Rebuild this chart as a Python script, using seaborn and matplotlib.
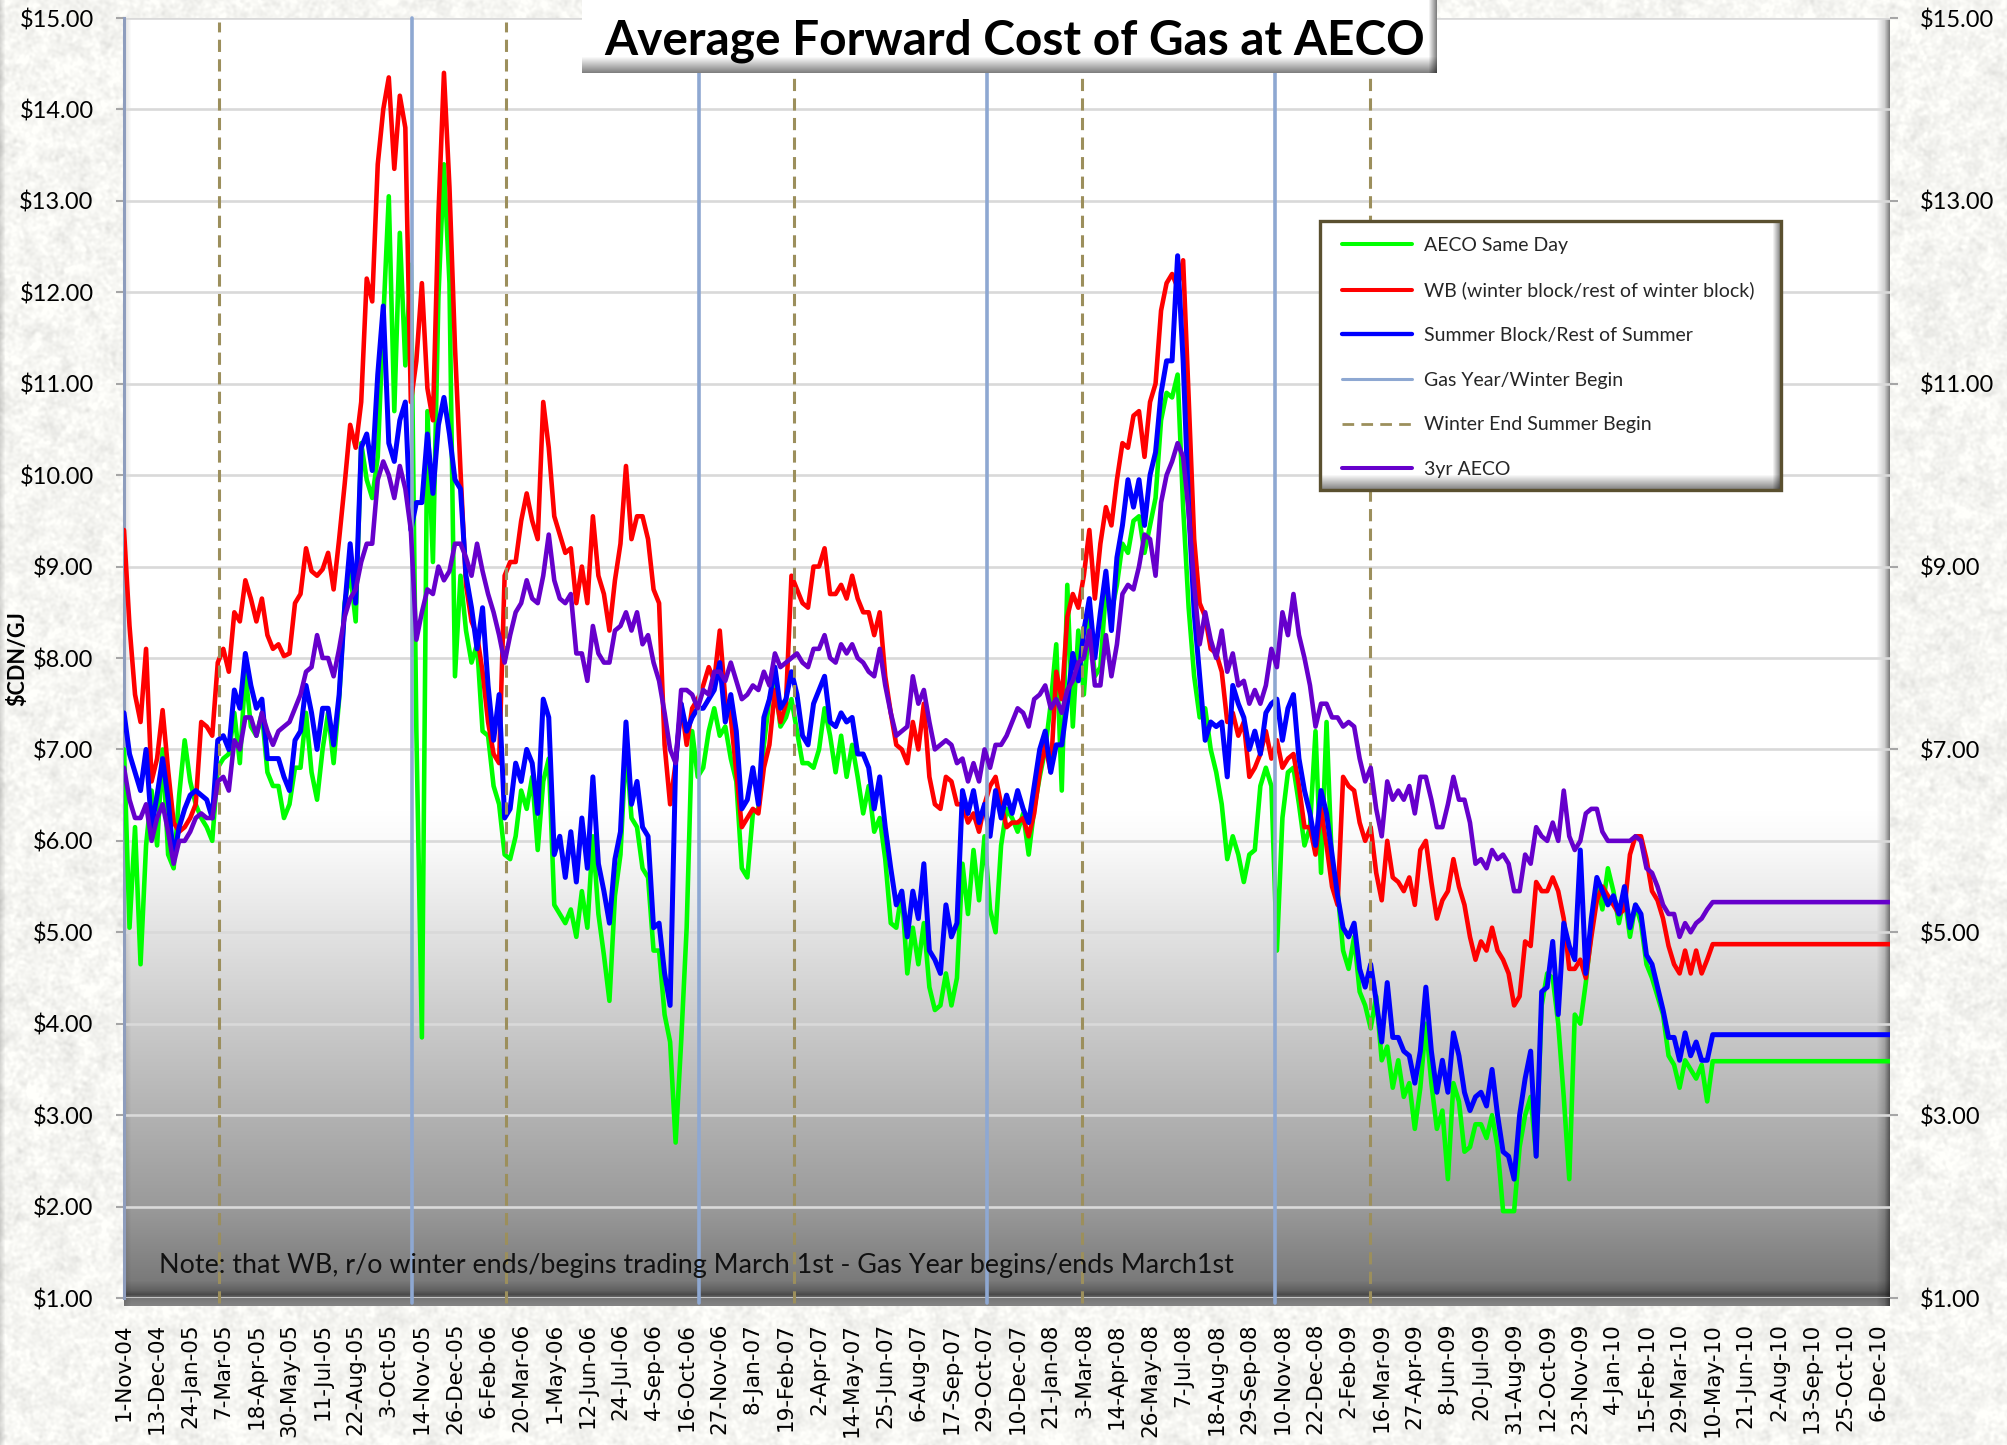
from __future__ import annotations

import matplotlib

matplotlib.use("Agg")

import matplotlib.pyplot as plt
import numpy as np
import pandas as pd
import seaborn as sns
from matplotlib.lines import Line2D
from matplotlib.patches import Rectangle

WIDTH, HEIGHT = 2007, 1445

# plot frame in picture pixels
LEFT, RIGHT, TOP, BOTTOM = 124, 1890, 18, 1298
FILL_BOTTOM = 1306

FIRST_DAY = "2004-11-01"
LAST_DAY = "2010-12-21"
FLAT_END = "2010-12-21"

# weekly readings from 1-Nov-04, last entry is the flat forward value
aeco_same_day = [
    7.0, 5.05, 6.15, 4.65, 5.95, 6.55, 5.95, 7.0, 5.85, 5.7,
    6.5, 7.1, 6.65, 6.4, 6.25, 6.15, 6.0, 6.8, 6.9, 6.95,
    7.4, 6.85, 7.85, 7.25, 7.15, 7.4, 6.75, 6.6, 6.6, 6.25,
    6.4, 6.8, 6.8, 7.4, 6.75, 6.45, 7.0, 7.4, 6.85, 7.55,
    8.6, 8.95, 8.4, 10.35, 9.95, 9.75, 10.2, 11.7, 13.05, 10.7,
    12.65, 11.2, 12.3, 7.2, 3.85, 10.7, 9.05, 11.95, 13.4, 12.1,
    7.8, 8.9, 8.3, 7.95, 8.15, 7.2, 7.15, 6.6, 6.4, 5.85,
    5.8, 6.05, 6.55, 6.35, 6.7, 5.9, 6.65, 6.9, 5.3, 5.2,
    5.1, 5.25, 4.95, 5.45, 5.05, 6.05, 5.2, 4.75, 4.25, 5.4,
    5.85, 7.05, 6.25, 6.15, 5.7, 5.6, 4.8, 4.8, 4.1, 3.8,
    2.7, 3.8, 5.05, 7.2, 6.7, 6.8, 7.2, 7.45, 7.15, 7.25,
    6.9, 6.65, 5.7, 5.6, 6.3, 6.35, 7.05, 7.55, 7.75, 7.25,
    7.35, 7.55, 7.2, 6.85, 6.85, 6.8, 7.0, 7.45, 7.15, 6.75,
    7.15, 6.7, 7.05, 6.7, 6.3, 6.6, 6.1, 6.25, 5.8, 5.1,
    5.05, 5.45, 4.55, 5.05, 4.65, 5.1, 4.4, 4.15, 4.2, 4.55,
    4.2, 4.5, 5.75, 5.2, 5.9, 5.35, 6.05, 5.25, 5.0, 5.95,
    6.35, 6.25, 6.1, 6.3, 5.85, 6.35, 6.7, 7.0, 7.5, 8.15,
    6.55, 8.8, 7.25, 8.3, 7.6, 8.45, 7.8, 7.9, 8.75, 8.5,
    8.8, 9.25, 9.15, 9.5, 9.55, 9.15, 9.45, 9.75, 10.6, 10.9,
    10.85, 11.1, 9.65, 8.55, 7.8, 7.35, 7.45, 7.0, 6.75, 6.4,
    5.8, 6.05, 5.85, 5.55, 5.85, 5.9, 6.6, 6.8, 6.6, 4.8,
    6.25, 6.75, 6.8, 6.4, 5.95, 6.15, 7.2, 5.65, 7.3, 5.7,
    5.45, 4.8, 4.6, 4.95, 4.35, 4.2, 3.95, 4.3, 3.6, 3.75,
    3.3, 3.6, 3.2, 3.35, 2.85, 3.3, 4.0, 3.35, 2.85, 3.05,
    2.3, 3.35, 3.15, 2.6, 2.65, 2.9, 2.9, 2.75, 3.0, 2.65,
    1.95, 1.95, 1.95, 2.65, 3.0, 3.2, 2.55, 4.2, 4.55, 4.5,
    4.0, 3.2, 2.3, 4.1, 4.0, 4.45, 5.0, 5.55, 5.25, 5.7,
    5.45, 5.1, 5.4, 4.95, 5.3, 5.1, 4.65, 4.5, 4.3, 4.1,
    3.65, 3.55, 3.3, 3.6, 3.5, 3.4, 3.55, 3.15, 3.59, 3.59,
]
winter_block = [
    9.4, 8.35, 7.6, 7.3, 8.1, 6.65, 6.9, 7.43, 6.77, 6.2,
    6.1, 6.15, 6.25, 6.4, 7.3, 7.25, 7.15, 7.95, 8.1, 7.85,
    8.5, 8.4, 8.85, 8.65, 8.4, 8.65, 8.25, 8.1, 8.15, 8.02,
    8.05, 8.6, 8.7, 9.2, 8.95, 8.9, 8.97, 9.15, 8.75, 9.3,
    9.9, 10.55, 10.3, 10.8, 12.15, 11.9, 13.4, 14.0, 14.35, 13.35,
    14.15, 13.8, 10.8, 11.25, 12.1, 10.95, 10.6, 12.85, 14.4, 13.15,
    11.4, 10.05, 8.8, 8.4, 8.25, 7.85, 7.3, 6.95, 6.85, 8.9,
    9.05, 9.05, 9.5, 9.8, 9.5, 9.3, 10.8, 10.3, 9.55, 9.35,
    9.15, 9.2, 8.6, 9.0, 8.6, 9.55, 8.9, 8.7, 8.3, 8.85,
    9.25, 10.1, 9.3, 9.55, 9.55, 9.3, 8.75, 8.6, 7.05, 6.4,
    6.85, 7.5, 7.05, 7.45, 7.55, 7.7, 7.9, 7.75, 8.3, 7.55,
    7.35, 6.75, 6.15, 6.25, 6.35, 6.3, 6.8, 7.05, 7.65, 7.3,
    7.5, 8.9, 8.75, 8.6, 8.55, 9.0, 9.0, 9.2, 8.7, 8.7,
    8.8, 8.65, 8.9, 8.65, 8.5, 8.5, 8.25, 8.5, 7.8, 7.4,
    7.05, 7.0, 6.85, 7.3, 7.0, 7.5, 6.7, 6.4, 6.35, 6.7,
    6.65, 6.4, 6.4, 6.2, 6.3, 6.1, 6.4, 6.6, 6.7, 6.4,
    6.15, 6.2, 6.2, 6.25, 6.05, 6.3, 6.75, 7.05, 6.75, 7.85,
    7.55, 8.45, 8.7, 8.55, 8.9, 9.4, 8.65, 9.25, 9.65, 9.45,
    9.95, 10.35, 10.3, 10.65, 10.7, 10.2, 10.8, 11.0, 11.8, 12.1,
    12.2, 12.05, 12.35, 10.85, 9.3, 8.6, 8.45, 8.1, 8.05, 7.85,
    7.3, 7.4, 7.15, 7.3, 6.7, 6.8, 6.95, 7.2, 6.9, 7.1,
    6.8, 6.9, 6.95, 6.6, 6.15, 6.15, 5.85, 6.35, 5.95, 5.5,
    5.3, 6.7, 6.6, 6.55, 6.2, 6.0, 6.15, 5.65, 5.35, 6.0,
    5.6, 5.55, 5.45, 5.6, 5.3, 5.9, 6.0, 5.55, 5.15, 5.35,
    5.45, 5.8, 5.5, 5.3, 4.95, 4.7, 4.9, 4.8, 5.05, 4.8,
    4.7, 4.55, 4.2, 4.3, 4.9, 4.85, 5.55, 5.45, 5.45, 5.6,
    5.45, 5.15, 4.6, 4.6, 4.7, 4.5, 4.95, 5.35, 5.5, 5.4,
    5.3, 5.2, 5.25, 5.85, 6.05, 6.05, 5.8, 5.45, 5.35, 5.15,
    4.85, 4.65, 4.55, 4.8, 4.55, 4.8, 4.55, 4.7, 4.87, 4.87,
]
summer_block = [
    7.4, 6.95, 6.75, 6.55, 7.0, 6.15, 6.5, 6.9, 6.45, 5.8,
    6.15, 6.35, 6.5, 6.55, 6.5, 6.45, 6.25, 7.1, 7.15, 7.0,
    7.65, 7.45, 8.05, 7.7, 7.45, 7.55, 6.9, 6.9, 6.9, 6.7,
    6.55, 7.1, 7.2, 7.7, 7.4, 7.0, 7.45, 7.45, 7.05, 7.6,
    8.55, 9.25, 8.6, 10.3, 10.45, 10.05, 11.1, 11.85, 10.35, 10.15,
    10.6, 10.8, 9.4, 9.7, 9.7, 10.45, 9.8, 10.55, 10.85, 10.45,
    9.95, 9.85, 8.9, 8.55, 8.1, 8.55, 7.7, 7.1, 7.6, 6.25,
    6.35, 6.85, 6.65, 7.0, 6.85, 6.3, 7.55, 7.35, 5.85, 6.05,
    5.6, 6.1, 5.55, 6.25, 5.7, 6.7, 5.75, 5.45, 5.1, 5.8,
    6.1, 7.3, 6.4, 6.65, 6.15, 6.05, 5.05, 5.1, 4.55, 4.2,
    6.85, 7.5, 7.2, 7.35, 7.45, 7.45, 7.55, 7.65, 7.95, 7.3,
    7.6, 7.2, 6.35, 6.45, 6.8, 6.4, 7.35, 7.55, 7.9, 7.45,
    7.55, 7.85, 7.6, 7.15, 7.05, 7.5, 7.65, 7.8, 7.3, 7.25,
    7.4, 7.3, 7.35, 6.95, 6.95, 6.8, 6.35, 6.7, 6.15, 5.7,
    5.3, 5.45, 4.95, 5.45, 5.15, 5.75, 4.8, 4.7, 4.55, 5.3,
    4.95, 5.1, 6.55, 6.3, 6.55, 6.2, 6.4, 6.05, 6.55, 6.25,
    6.5, 6.3, 6.55, 6.35, 6.2, 6.6, 7.0, 7.2, 6.75, 7.05,
    7.05, 7.5, 8.05, 7.75, 8.3, 8.65, 8.0, 8.5, 8.95, 8.3,
    9.1, 9.45, 9.95, 9.65, 9.95, 9.45, 10.0, 10.25, 10.9, 11.25,
    11.25, 12.4, 11.25, 9.65, 8.5, 7.8, 7.1, 7.3, 7.25, 7.3,
    6.7, 7.7, 7.5, 7.35, 7.0, 7.2, 6.95, 7.4, 7.5, 7.55,
    7.1, 7.45, 7.6, 6.9, 6.55, 6.3, 5.95, 6.55, 6.3, 5.85,
    5.4, 5.05, 4.95, 5.1, 4.6, 4.4, 4.65, 4.25, 3.8, 4.45,
    3.85, 3.85, 3.7, 3.65, 3.35, 3.7, 4.4, 3.7, 3.25, 3.6,
    3.25, 3.9, 3.65, 3.25, 3.05, 3.2, 3.25, 3.1, 3.5, 3.0,
    2.6, 2.55, 2.3, 3.0, 3.4, 3.7, 2.55, 4.35, 4.4, 4.9,
    4.1, 5.1, 4.85, 4.7, 5.9, 4.55, 5.15, 5.6, 5.45, 5.3,
    5.4, 5.2, 5.5, 5.05, 5.3, 5.2, 4.75, 4.65, 4.4, 4.15,
    3.85, 3.85, 3.6, 3.9, 3.65, 3.8, 3.6, 3.6, 3.88, 3.88,
]
three_yr_aeco = [
    6.8, 6.45, 6.25, 6.25, 6.4, 6.0, 6.25, 6.4, 6.1, 5.75,
    6.0, 6.0, 6.1, 6.25, 6.3, 6.25, 6.25, 6.65, 6.7, 6.55,
    7.1, 7.0, 7.35, 7.35, 7.15, 7.4, 7.2, 7.05, 7.2, 7.25,
    7.3, 7.45, 7.6, 7.85, 7.9, 8.25, 8.0, 8.0, 7.8, 8.1,
    8.45, 8.65, 8.75, 9.05, 9.25, 9.25, 9.95, 10.15, 10.0, 9.75,
    10.1, 9.85, 9.4, 8.2, 8.5, 8.75, 8.7, 9.0, 8.85, 8.95,
    9.25, 9.25, 9.1, 8.9, 9.25, 8.95, 8.7, 8.5, 8.25, 7.95,
    8.25, 8.5, 8.6, 8.85, 8.65, 8.6, 8.9, 9.35, 8.85, 8.65,
    8.6, 8.7, 8.05, 8.05, 7.75, 8.35, 8.05, 7.95, 7.95, 8.3,
    8.35, 8.5, 8.3, 8.5, 8.15, 8.25, 7.95, 7.75, 7.4, 7.0,
    6.85, 7.65, 7.65, 7.6, 7.45, 7.65, 7.6, 7.85, 7.85, 7.75,
    7.95, 7.75, 7.55, 7.6, 7.7, 7.65, 7.85, 7.7, 8.05, 7.9,
    7.95, 8.0, 8.05, 7.95, 7.9, 8.1, 8.1, 8.25, 8.0, 7.95,
    8.15, 8.05, 8.15, 8.0, 7.95, 7.85, 7.8, 8.1, 7.7, 7.4,
    7.15, 7.2, 7.25, 7.8, 7.5, 7.65, 7.3, 7.0, 7.05, 7.1,
    7.05, 6.85, 6.9, 6.65, 6.85, 6.65, 7.0, 6.8, 7.05, 7.05,
    7.15, 7.3, 7.45, 7.4, 7.25, 7.55, 7.6, 7.7, 7.45, 7.55,
    7.4, 7.65, 7.75, 7.95, 8.0, 8.3, 7.7, 7.7, 8.25, 7.8,
    8.15, 8.7, 8.8, 8.75, 9.0, 9.35, 9.3, 8.9, 9.7, 10.0,
    10.15, 10.35, 10.2, 9.6, 8.8, 8.15, 8.5, 8.2, 8.0, 8.3,
    7.85, 8.05, 7.7, 7.75, 7.5, 7.65, 7.5, 7.7, 8.1, 7.9,
    8.5, 8.25, 8.7, 8.25, 8.0, 7.7, 7.25, 7.5, 7.5, 7.35,
    7.35, 7.25, 7.3, 7.25, 6.9, 6.65, 6.8, 6.35, 6.05, 6.65,
    6.45, 6.55, 6.45, 6.6, 6.3, 6.7, 6.7, 6.45, 6.15, 6.15,
    6.4, 6.7, 6.45, 6.45, 6.2, 5.75, 5.8, 5.7, 5.9, 5.8,
    5.85, 5.75, 5.45, 5.45, 5.85, 5.75, 6.15, 6.05, 6.0, 6.2,
    6.0, 6.55, 6.05, 5.9, 6.0, 6.3, 6.35, 6.35, 6.1, 6.0,
    6.0, 6.0, 6.0, 6.0, 6.05, 6.0, 5.7, 5.65, 5.5, 5.3,
    5.2, 5.2, 4.95, 5.1, 5.0, 5.1, 5.15, 5.25, 5.33, 5.33,
]

gas_year_begin = ["2005-11-01", "2006-11-01", "2007-11-01", "2008-11-01"]
summer_begin = ["2005-03-01", "2006-03-01", "2007-03-01", "2008-03-01", "2009-03-01"]

date_labels = [
    "1-Nov-04", "13-Dec-04", "24-Jan-05", "7-Mar-05", "18-Apr-05", "30-May-05",
    "11-Jul-05", "22-Aug-05", "3-Oct-05", "14-Nov-05", "26-Dec-05", "6-Feb-06",
    "20-Mar-06", "1-May-06", "12-Jun-06", "24-Jul-06", "4-Sep-06", "16-Oct-06",
    "27-Nov-06", "8-Jan-07", "19-Feb-07", "2-Apr-07", "14-May-07", "25-Jun-07",
    "6-Aug-07", "17-Sep-07", "29-Oct-07", "10-Dec-07", "21-Jan-08", "3-Mar-08",
    "14-Apr-08", "26-May-08", "7-Jul-08", "18-Aug-08", "29-Sep-08", "10-Nov-08",
    "22-Dec-08", "2-Feb-09", "16-Mar-09", "27-Apr-09", "8-Jun-09", "20-Jul-09",
    "31-Aug-09", "12-Oct-09", "23-Nov-09", "4-Jan-10", "15-Feb-10", "29-Mar-10",
    "10-May-10", "21-Jun-10", "2-Aug-10", "13-Sep-10", "25-Oct-10", "6-Dec-10",
]
left_ticks = list(range(1, 16))
right_ticks = list(range(1, 16, 2))

GREEN, RED, BLUE, PURPLE = "#00FF00", "#FF0000", "#0000FF", "#6600CC"
GAS_LINE = "#8EA8D2"
SUMMER_LINE = "#9C8F5C"
GRID = "#D9D9D9"

TITLE = "Average Forward Cost of Gas at AECO"
NOTE = "Note: that WB, r/o winter ends/begins trading March 1st - Gas Year begins/ends March1st"


def blur(noise: np.ndarray, sigma: float) -> np.ndarray:
    fy = np.fft.fftfreq(noise.shape[0])[:, None]
    fx = np.fft.rfftfreq(noise.shape[1])[None, :]
    kernel = np.exp(-2 * (np.pi * sigma) ** 2 * (fx**2 + fy**2))
    out = np.fft.irfft2(np.fft.rfft2(noise) * kernel, s=noise.shape)
    return out / out.std()


def background() -> np.ndarray:
    # paper texture around the plot, gradient and bevel inside it
    rng = np.random.default_rng(11)
    fine = blur(rng.normal(size=(HEIGHT, WIDTH)), 1.4)
    wide = blur(rng.normal(size=(HEIGHT, WIDTH)), 5)
    paper = np.clip(0.965 + 0.016 * fine + 0.012 * wide, 0.84, 1.0)
    paper[:, :6] *= np.linspace(0.86, 1.0, 6)
    img = np.dstack([paper, paper, paper * 0.985])

    rows = np.arange(TOP, FILL_BOTTOM)
    shade = np.interp(
        rows,
        [0, 810, 850, 932, 1024, 1115, 1207, 1280, 1290, 1294, 1298, FILL_BOTTOM],
        [255, 255, 248, 226, 202, 178, 154, 122, 96, 74, 120, 134],
    ) / 255
    plot = np.tile(shade[:, None], (1, RIGHT - LEFT))
    cols = np.arange(LEFT, RIGHT)
    edge = np.interp(cols, [RIGHT - 14, RIGHT - 6, RIGHT - 1], [1.0, 0.82, 0.5])
    edge *= np.interp(cols, [LEFT, LEFT + 7], [0.88, 1.0])
    plot = plot * edge[None, :]
    img[TOP:FILL_BOTTOM, LEFT:RIGHT] = plot[:, :, None]
    return img


def bevel_box(w: int, h: int, right_px: int, bottom_px: int, low: float) -> np.ndarray:
    side = np.interp(np.arange(w), [w - right_px, w - 1], [1.0, low])
    under = np.interp(np.arange(h), [h - bottom_px, h - 1], [1.0, low])
    return np.outer(under, side)


def draw_box(ax, x0, y0, x1, y1, right_px, bottom_px, low):
    box = bevel_box(x1 - x0, y1 - y0, right_px, bottom_px, low)
    ax.imshow(
        box, cmap="gray", vmin=0, vmax=1, extent=(x0, x1, y1, y0),
        aspect="auto", interpolation="bilinear", zorder=1,
    )


def main() -> None:
    sns.set_theme(style="white")
    plt.rcParams["font.family"] = ["Lato", "DejaVu Sans"]

    fig = plt.figure(figsize=(WIDTH / 100, HEIGHT / 100), dpi=100)

    bg_ax = fig.add_axes([0, 0, 1, 1], zorder=0)
    bg_ax.imshow(background(), aspect="auto", interpolation="nearest")
    bg_ax.set_axis_off()

    ax = fig.add_axes(
        [
            LEFT / WIDTH,
            1 - BOTTOM / HEIGHT,
            (RIGHT - LEFT) / WIDTH,
            (BOTTOM - TOP) / HEIGHT,
        ],
        zorder=1,
    )
    ax.patch.set_visible(False)

    weeks = pd.date_range(FIRST_DAY, periods=len(aeco_same_day) - 1, freq="7D")
    dates = weeks.append(pd.DatetimeIndex([FLAT_END]))

    sns.lineplot(x=dates, y=aeco_same_day, color=GREEN, linewidth=3.3, ax=ax,
                 estimator=None, zorder=3.0)
    sns.lineplot(x=dates, y=winter_block, color=RED, linewidth=3.3, ax=ax,
                 estimator=None, zorder=3.1)
    sns.lineplot(x=dates, y=summer_block, color=BLUE, linewidth=3.6, ax=ax,
                 estimator=None, zorder=3.2)
    sns.lineplot(x=dates, y=three_yr_aeco, color=PURPLE, linewidth=3.3, ax=ax,
                 estimator=None, zorder=3.4)

    for day in gas_year_begin:
        ax.axvline(pd.Timestamp(day), ymin=-0.004, ymax=1, color=GAS_LINE, lw=2.6,
                   clip_on=False, zorder=3.3)
    for day in summer_begin:
        ax.axvline(pd.Timestamp(day), ymin=-0.004, ymax=0.997, color=SUMMER_LINE, lw=2.2,
                   linestyle=(0, (4.0, 2.4)), clip_on=False, zorder=3.3)

    ax.set_xlim(pd.Timestamp(FIRST_DAY), pd.Timestamp(LAST_DAY))
    ax.set_ylim(1, 15)
    ax.set_xlabel("")
    ax.set_ylabel("")

    tick_days = pd.to_datetime(date_labels, format="%d-%b-%y")
    ax.set_xticks(tick_days)
    ax.set_xticklabels(date_labels, rotation=90, fontsize=15.5, family="DejaVu Sans",
                       color="black")
    ax.tick_params(axis="x", length=0, pad=18)

    ax.set_yticks(left_ticks)
    ax.set_yticklabels([f"${v:.2f}" for v in left_ticks], fontsize=17, color="black")
    ax.tick_params(axis="y", length=5.8, width=1.5, color="#A6A6A6", pad=16, left=True)
    ax.grid(axis="y", color=GRID, linewidth=1.9, zorder=1)
    ax.set_axisbelow(True)

    for name in ("top", "right", "bottom"):
        ax.spines[name].set_visible(False)
    ax.spines["left"].set_color("#8E9DBD")
    ax.spines["left"].set_linewidth(2.2)

    right_ax = ax.twinx()
    right_ax.set_zorder(2)
    right_ax.patch.set_visible(False)
    right_ax.grid(False)
    right_ax.set_ylim(1, 15)
    right_ax.set_yticks(right_ticks)
    right_ax.set_yticklabels([f"${v:.2f}" for v in right_ticks], fontsize=17, color="black")
    right_ax.tick_params(axis="y", length=5.8, width=1.5, color="#A6A6A6", pad=16, right=True)
    for spine in right_ax.spines.values():
        spine.set_visible(False)

    # title box, legend box and free text sit on a pixel-sized overlay
    top_ax = fig.add_axes([0, 0, 1, 1], zorder=5)
    top_ax.patch.set_visible(False)
    top_ax.set_axis_off()

    draw_box(top_ax, 582, 0, 1437, 73, 9, 17, 0.5)
    top_ax.text(1015, 41, TITLE, fontsize=34.4, fontweight="bold", ha="center",
                va="center", color="black", family="Lato")

    draw_box(top_ax, 1320, 221, 1781, 490, 9, 16, 0.5)
    top_ax.add_patch(Rectangle((1320, 221), 461, 269, fill=False, ec="#5A5030", lw=2.4, zorder=2))

    handles = [
        Line2D([], [], color=GREEN, lw=2.9),
        Line2D([], [], color=RED, lw=2.9),
        Line2D([], [], color=BLUE, lw=3.1),
        Line2D([], [], color=GAS_LINE, lw=2.2),
        Line2D([], [], color=SUMMER_LINE, lw=2.0, linestyle=(0, (4.2, 2.6))),
        Line2D([], [], color=PURPLE, lw=2.9),
    ]
    labels = [
        "AECO Same Day",
        "WB (winter block/rest of winter block)",
        "Summer Block/Rest of Summer",
        "Gas Year/Winter Begin",
        "Winter End Summer Begin",
        "3yr AECO",
    ]
    legend = top_ax.legend(
        handles, labels, loc="upper left", frameon=False, fontsize=14,
        bbox_to_anchor=(1342 / WIDTH, 1 - 237 / HEIGHT), bbox_transform=fig.transFigure,
        borderpad=0, borderaxespad=0, labelspacing=1.42, handlelength=3.6, handletextpad=0.6,
    )
    legend.set_zorder(3)

    top_ax.text(159, 1265, NOTE, fontsize=19.35, ha="left", va="center", color="#111111")
    top_ax.text(18, 659, "$CDN/GJ", fontsize=15.5, fontweight="bold", rotation=90,
                ha="center", va="center", color="black")

    top_ax.set_xlim(0, WIDTH)
    top_ax.set_ylim(HEIGHT, 0)

    fig.savefig("out.png", dpi=100)
    plt.close(fig)


if __name__ == "__main__":
    main()
